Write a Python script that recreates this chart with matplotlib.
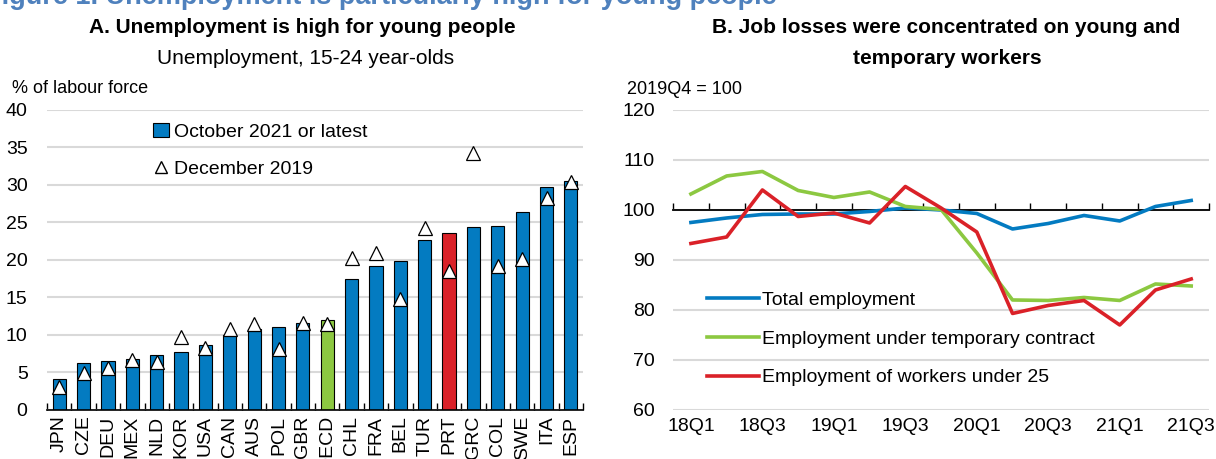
import numpy as np
import matplotlib.pyplot as plt
from matplotlib.patches import Patch
from matplotlib.lines import Line2D

plt.rcParams['font.family'] = ['Liberation Sans Narrow', 'Liberation Sans', 'DejaVu Sans']

# Panel A data: youth unemployment, % of labour force
countries = ['JPN', 'CZE', 'DEU', 'MEX', 'NLD', 'KOR', 'USA', 'CAN', 'AUS', 'POL', 'GBR',
             'OECD', 'CHL', 'FRA', 'BEL', 'TUR', 'PRT', 'GRC', 'COL', 'SWE', 'ITA', 'ESP']
oct2021 = [4.1, 6.2, 6.5, 6.8, 7.3, 7.7, 8.6, 10.0, 10.8, 11.0, 11.6,
           12.0, 17.4, 19.2, 19.9, 22.6, 23.6, 24.4, 24.5, 26.4, 29.7, 30.5]
dec2019 = [3.1, 4.9, 5.6, 6.7, 6.4, 9.7, 8.2, 10.8, 11.5, 8.1, 11.6,
           11.4, 20.3, 20.9, 14.8, 24.3, 18.5, 34.2, 19.2, 20.1, 28.2, 30.4]

# Panel B data: employment index, 2019Q4 = 100
quarters = ['18Q1', '18Q2', '18Q3', '18Q4', '19Q1', '19Q2', '19Q3', '19Q4',
            '20Q1', '20Q2', '20Q3', '20Q4', '21Q1', '21Q2', '21Q3']
total_emp = [97.5, 98.4, 99.1, 99.2, 99.2, 99.7, 100.4, 100.0,
             99.3, 96.2, 97.3, 98.9, 97.8, 100.7, 101.9]
temp_emp = [103.2, 106.8, 107.7, 103.9, 102.5, 103.6, 100.7, 100.1,
            91.4, 82.0, 81.9, 82.5, 81.9, 85.2, 84.8]
young_emp = [93.3, 94.6, 104.0, 98.7, 99.4, 97.4, 104.7, 100.4,
             95.6, 79.3, 80.9, 81.9, 77.0, 84.0, 86.2]

BLUE = '#037BC1'
GREEN = '#8CC841'
RED = '#DA2128'
GRID = '#D9D9D9'

fig = plt.figure(figsize=(12.16, 4.59), dpi=100)

# figure title, cropped at the top like in the source
fig.text(-0.012, 0.991, 'Figure 1. Unemployment is particularly high for young people',
         color='#4F81BD', fontsize=19.5, fontweight='bold', va='baseline', ha='left',
         family=['Liberation Sans', 'DejaVu Sans'])

# ---------------- Panel A ----------------
ax1 = fig.add_axes([0.0387, 0.1068, 0.4408, 0.6536])
x = np.arange(len(countries))
bar_colors = [GREEN if c == 'OECD' else RED if c == 'PRT' else BLUE for c in countries]
ax1.bar(x, oct2021, width=0.54, color=bar_colors, edgecolor='black', linewidth=0.8, zorder=2)
ax1.plot(x, dec2019, linestyle='none', marker='^', markersize=10, markerfacecolor='white',
         markeredgecolor='black', markeredgewidth=0.9, zorder=3)

ax1.set_xlim(-0.5, len(countries) - 0.5)
ax1.set_ylim(0, 40)
ax1.set_yticks(range(0, 41, 5))
ax1.yaxis.grid(True, color=GRID, linewidth=1.5, zorder=0)
ax1.set_axisbelow(True)
for s in ['left', 'right', 'top']:
    ax1.spines[s].set_visible(False)
ax1.spines['bottom'].set_linewidth(1.2)
ax1.set_xticks(x)
ax1.set_xticklabels(countries, rotation=90, fontsize=14)
ax1.set_xticks(np.arange(-0.5, len(countries), 1), minor=True)
ax1.tick_params(axis='x', which='major', length=0, pad=4)
ax1.tick_params(axis='x', which='minor', direction='in', length=5, width=1.0)
ax1.tick_params(axis='y', length=0, labelsize=14, pad=14)

ax1.legend(
    handles=[Patch(facecolor=BLUE, edgecolor='black', linewidth=0.8, label='October 2021 or latest'),
             Line2D([], [], linestyle='none', marker='^', markersize=8, markerfacecolor='white',
                    markeredgecolor='black', label='December 2019')],
    loc='upper left', bbox_to_anchor=(0.165, 1.015), frameon=False, fontsize=14,
    handlelength=0.8, handletextpad=0.3, labelspacing=1.0)

fig.text(0.249, 0.94, 'A. Unemployment is high for young people', ha='center', va='center',
         fontsize=15, fontweight='bold')
fig.text(0.251, 0.873, 'Unemployment, 15-24 year-olds', ha='center', va='center', fontsize=15)
fig.text(0.010, 0.808, '% of labour force', ha='left', va='center', fontsize=13)

# ---------------- Panel B ----------------
ax2 = fig.add_axes([0.5535, 0.1068, 0.4408, 0.6536])
q = np.arange(len(quarters))
ax2.plot(q, total_emp, color=BLUE, linewidth=2.6, label='Total employment', zorder=3)
ax2.plot(q, temp_emp, color=GREEN, linewidth=2.6, label='Employment under temporary contract', zorder=3)
ax2.plot(q, young_emp, color=RED, linewidth=2.6, label='Employment of workers under 25', zorder=4)

ax2.set_xlim(-0.5, len(quarters) - 0.5)
ax2.set_ylim(60, 120)
ax2.set_yticks(range(60, 121, 10))
ax2.yaxis.grid(True, color=GRID, linewidth=1.5, zorder=0)
ax2.set_axisbelow(True)
for s in ['left', 'right', 'top']:
    ax2.spines[s].set_visible(False)

# x axis line crosses at 100, with upward ticks between quarters
ax2.spines['bottom'].set_position(('data', 100))
ax2.spines['bottom'].set_linewidth(1.3)
ax2.set_xticks(np.arange(-0.5, len(quarters), 1))
ax2.tick_params(axis='x', direction='in', length=5, width=1.0, labelbottom=False)
ax2.tick_params(axis='y', length=0, labelsize=14, pad=13)

# quarter labels along the bottom edge
lab = ax2.secondary_xaxis('bottom')
lab.spines['bottom'].set_visible(False)
lab.set_xticks(q[::2])
lab.set_xticklabels(quarters[::2], fontsize=14)
lab.tick_params(axis='x', length=0, pad=6)

ax2.legend(loc='lower left', bbox_to_anchor=(0.03, 0.02), frameon=False, fontsize=14,
           handlelength=2.7, handletextpad=0.15, labelspacing=1.09)

fig.text(0.778, 0.94, 'B. Job losses were concentrated on young and', ha='center', va='center',
         fontsize=15, fontweight='bold')
fig.text(0.779, 0.873, 'temporary workers', ha='center', va='center',
         fontsize=15, fontweight='bold')
fig.text(0.516, 0.804, '2019Q4 = 100', ha='left', va='center', fontsize=13)

fig.savefig('out.png', dpi=100)
